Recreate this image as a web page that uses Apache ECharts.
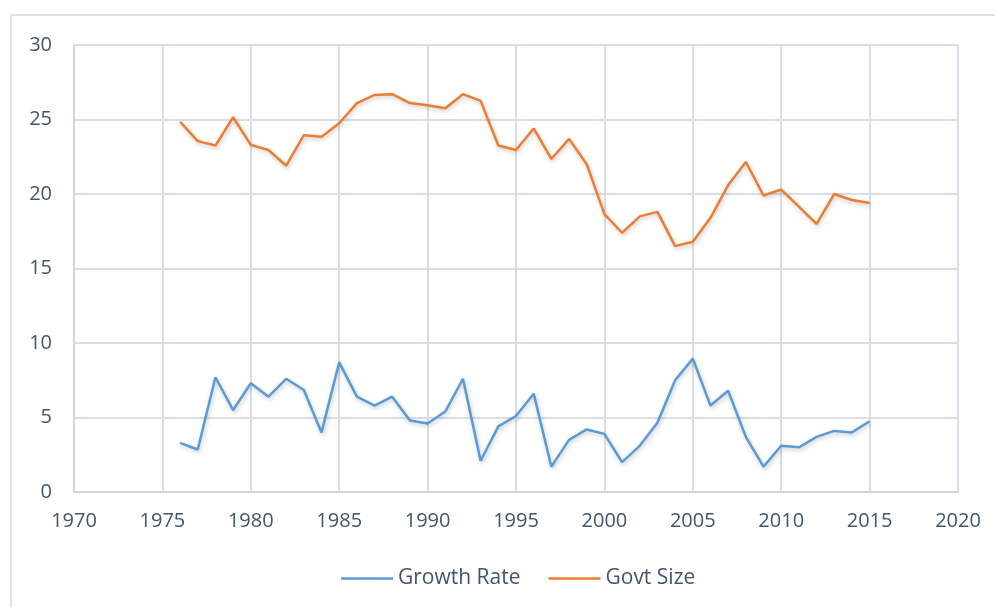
<!DOCTYPE html>
<html>
<head>
<meta charset="utf-8">
<script src="https://cdn.jsdelivr.net/npm/echarts@6/dist/echarts.min.js"></script>
<style>
html,body{margin:0;padding:0;background:#fff;}
#chart{width:995px;height:607px;}
</style>
</head>
<body>
<div id="chart"></div>
<script>
var years=[1976,1977,1978,1979,1980,1981,1982,1983,1984,1985,1986,1987,1988,1989,1990,1991,1992,1993,1994,1995,1996,1997,1998,1999,2000,2001,2002,2003,2004,2005,2006,2007,2008,2009,2010,2011,2012,2013,2014,2015];
var growthRate=[3.3,2.85,7.7,5.5,7.3,6.4,7.6,6.85,4.0,8.7,6.4,5.8,6.4,4.8,4.6,5.4,7.6,2.1,4.4,5.1,6.6,1.7,3.5,4.2,3.9,2.0,3.1,4.65,7.5,8.95,5.8,6.8,3.7,1.7,3.1,3.0,3.7,4.1,4.0,4.75];
var govtSize=[24.85,23.55,23.25,25.15,23.3,22.95,21.9,23.95,23.85,24.75,26.1,26.65,26.7,26.1,25.95,25.75,26.7,26.25,23.25,22.95,24.4,22.35,23.7,22.0,18.65,17.4,18.5,18.8,16.5,16.8,18.4,20.6,22.15,19.9,20.3,19.15,18.0,20.0,19.6,19.4];
var xTicks=[1970,2020,5];
var yTicks=[0,30,5];

//把年份和数值配对
function pairs(vals){
	var out=[];
	for(var i=0;i<years.length;i++){
		out.push([years[i],vals[i]]);
	}
	return out;
}

var myChart=echarts.init(document.getElementById('chart'));
var textColor='#44546a';
var gridColor='#d9dee6';
var shadow={shadowColor:'rgba(0,0,0,0.22)',shadowBlur:4,shadowOffsetY:2,shadowOffsetX:1};

var option={
	animation:false,
	backgroundColor:'#fff',
	textStyle:{fontFamily:'Open Sans'},
	graphic:[{
		type:'rect',
		shape:{x:11,y:15,width:1000,height:700},
		style:{fill:'none',stroke:'#dde2ea',lineWidth:2},
		silent:true
	}],
	grid:{left:74,right:37,top:45,bottom:115},
	legend:{
		top:563,
		left:336,
		icon:'rect',
		itemWidth:52,
		itemHeight:2.5,
		itemGap:28,
		textStyle:{color:textColor,fontSize:21,fontFamily:'Open Sans'},
		data:['Growth Rate','Govt Size']
	},
	xAxis:{
		type:'value',
		min:xTicks[0],max:xTicks[1],interval:xTicks[2],
		axisLine:{show:true,lineStyle:{color:'#cdd3dd',width:1.5}},
		axisTick:{show:false},
		splitLine:{show:true,lineStyle:{color:gridColor,width:2}},
		axisLabel:{color:textColor,fontSize:20,margin:19,formatter:function(v){return String(v);}}
	},
	yAxis:{
		type:'value',
		min:yTicks[0],max:yTicks[1],interval:yTicks[2],
		axisLine:{show:true,lineStyle:{color:'#cdd3dd',width:1.5}},
		axisTick:{show:false},
		splitLine:{show:true,lineStyle:{color:gridColor,width:2}},
		axisLabel:{color:textColor,fontSize:20,margin:22}
	},
	series:[{
		name:'Growth Rate',
		type:'line',
		symbol:'none',
		data:pairs(growthRate),
		color:'#5b9bd5',
		lineStyle:Object.assign({width:2.5,color:'#5b9bd5'},shadow)
	},{
		name:'Govt Size',
		type:'line',
		symbol:'none',
		data:pairs(govtSize),
		color:'#ed7d31',
		lineStyle:Object.assign({width:2.5,color:'#ed7d31'},shadow)
	}]
};
myChart.setOption(option);
</script>
</body>
</html>
